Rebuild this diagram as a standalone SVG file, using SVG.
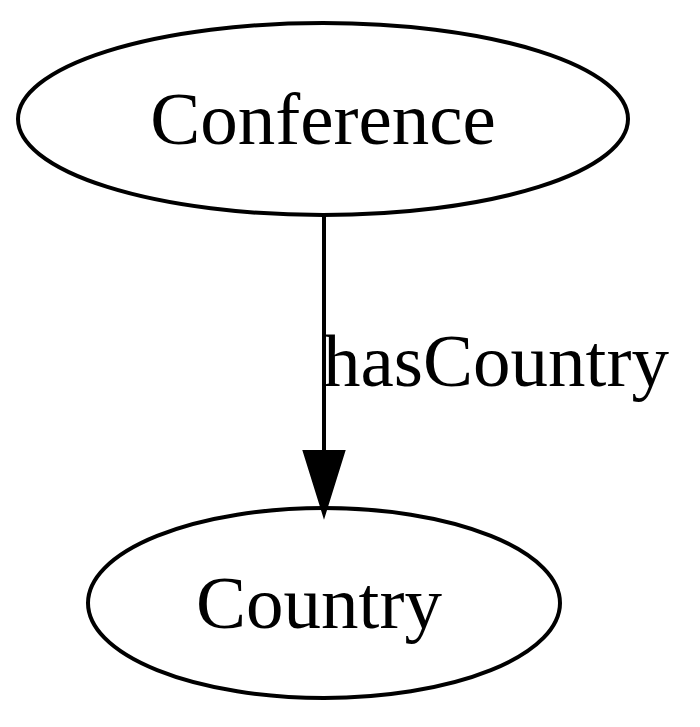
<svg xmlns="http://www.w3.org/2000/svg" width="700" height="727" viewBox="0 0 700 727">
<style>
.node ellipse{fill:none;stroke:#000;stroke-width:4}
text{font-family:"Liberation Serif","Times New Roman",serif;font-size:75px;fill:#000;text-anchor:middle}
.edge line{stroke:#000;stroke-width:4}
.edge polygon{fill:#000;stroke:#000;stroke-width:4}
</style>
<rect width="700" height="727" fill="#fff"/>
<g id="conference" class="node">
<ellipse cx="323" cy="119" rx="305" ry="96"/>
<text x="323" y="144">Conference</text>
</g>
<g id="country" class="node">
<ellipse cx="324" cy="603" rx="236" ry="95"/>
<text x="319" y="628">Country</text>
</g>
<g id="connectors" class="edge">
<line x1="324" y1="216" x2="324" y2="452"/>
<polygon points="305,452 343,452 324,513"/>
<text x="496" y="386">hasCountry</text>
</g>
</svg>
